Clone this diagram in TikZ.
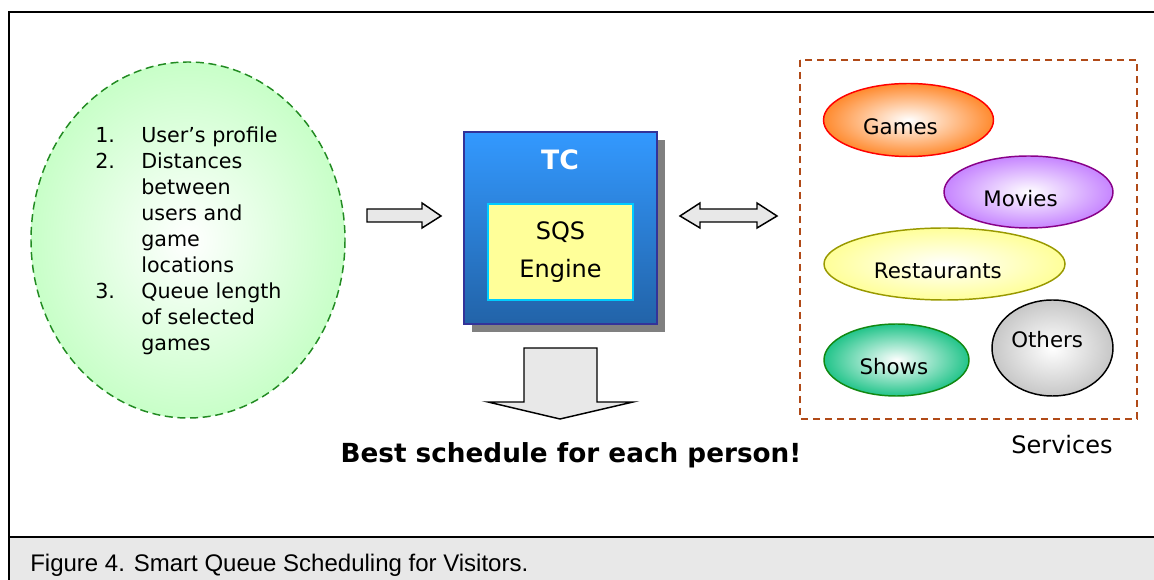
\documentclass[tikz,border=0pt]{standalone}
\usepackage{fontspec}
\setmainfont{DejaVu Sans}
\newfontfamily\capfont{Liberation Sans}
\usetikzlibrary{shapes.geometric, shadows, positioning}

\definecolor{listgreen}{HTML}{C8FFC8}
\definecolor{dashgreen}{HTML}{228B22}
\definecolor{arrowgray}{HTML}{E8E8E8}
\definecolor{tctop}{HTML}{3399FF}
\definecolor{tcbottom}{HTML}{2263A8}
\definecolor{tcline}{HTML}{333399}
\definecolor{sqsfill}{HTML}{FFFF99}
\definecolor{sqsline}{HTML}{00CCFF}
\definecolor{svcline}{HTML}{B04A18}
\definecolor{gamesfill}{HTML}{FF8A2E}
\definecolor{moviesfill}{HTML}{C685FF}
\definecolor{moviesline}{HTML}{880088}
\definecolor{showsfill}{HTML}{22C48A}
\definecolor{showsline}{HTML}{118811}
\definecolor{restline}{HTML}{999900}

\tikzset{
    blockarrow/.style={draw=black, fill=arrowgray, line width=1.1pt, line join=miter},
    svc/.style={ellipse, line width=1.1pt, inner color=white, inner sep=0pt},
    svctext/.style={font=\fontsize{16}{19}\selectfont},
}

\begin{document}
\begin{tikzpicture}[x=0.75pt, y=-0.75pt]
    \useasboundingbox (0,0) rectangle (1154,580);

    % frame and caption band
    \draw[line width=1.5pt] (9,12) rectangle (1170,600);
    \draw[fill=arrowgray, line width=1.1pt] (9,537) rectangle (1170,600);
    \node[anchor=west, inner sep=0pt] (caption) at (30,565)
        {\capfont\fontsize{18}{20}\selectfont Figure 4. Smart Queue Scheduling for Visitors.};

    % inputs
    \draw[dashgreen, dashed, dash pattern=on 6pt off 3.5pt, line width=1.1pt,
        inner color=white, outer color=listgreen] (188,240) ellipse [x radius=157, y radius=178];
    \node[anchor=base west, inner sep=0pt] (inputs) at (95,142.5)
        {\fontsize{15.5}{19.5}\selectfont
         \begin{tabular}[t]{@{}p{34.5pt}@{}l@{}}
         1. & User’s profile\\
         2. & Distances\\
            & between\\
            & users and\\
            & game\\
            & locations\\
         3. & Queue length\\
            & of selected\\
            & games
         \end{tabular}};

    % TC box
    \node[draw=tcline, line width=1.1pt, top color=tctop, bottom color=tcbottom,
        minimum width=144.75pt, minimum height=144pt, inner sep=0pt,
        general shadow={fill=black!50, shadow xshift=6pt, shadow yshift=-6pt}] (tc) at (560.5,228) {};
    \node[text=white, font=\bfseries\fontsize{20}{24}\selectfont] (tctitle) at (560,160) {TC};
    \node[draw=sqsline, fill=sqsfill, line width=1.1pt, minimum width=108.75pt, minimum height=72pt,
        align=center, inner sep=0pt, font=\fontsize{18}{29}\selectfont] (sqs) at (560.5,252) {SQS\\Engine};

    % block arrows
    \draw[blockarrow] (367,209) -- (422,209) -- (422,203) -- (441,216) -- (422,228) -- (422,222) -- (367,222) -- cycle;
    \draw[blockarrow] (680,216) -- (700,203) -- (700,209) -- (757,209) -- (757,203) -- (777,216)
        -- (757,228) -- (757,222) -- (700,222) -- (700,228) -- cycle;
    \draw[blockarrow] (524,348) -- (597,348) -- (597,402) -- (633,402) -- (560,419) -- (488,402) -- (524,402) -- cycle;

    \node[font=\bfseries\fontsize{19.7}{24}\selectfont] (best) at (571,455) {Best schedule for each person!};

    % services
    \draw[svcline, dashed, dash pattern=on 5.5pt off 3.5pt, line width=1.1pt] (800,60) rectangle (1137,419);
    \node[svc, draw=red, outer color=gamesfill, minimum width=127.5pt, minimum height=54.75pt,
        label={[svctext, xshift=-6pt, yshift=-5pt]center:Games}] (games) at (908.5,120) {};
    \node[svc, draw=moviesline, outer color=moviesfill, minimum width=126.75pt, minimum height=54pt,
        label={[svctext, xshift=-6pt, yshift=-5pt]center:Movies}] (movies) at (1028.5,192) {};
    \node[svc, draw=restline, outer color=sqsfill, minimum width=180.75pt, minimum height=54pt,
        label={[svctext, xshift=-5pt, yshift=-5pt]center:Restaurants}] (restaurants) at (944.5,264) {};
    \node[svc, draw=showsline, outer color=showsfill, minimum width=108.75pt, minimum height=54pt,
        label={[svctext, xshift=-2pt, yshift=-5pt]center:Shows}] (shows) at (896.5,360) {};
    \node[svc, draw=black, outer color=black!22, minimum width=90.75pt, minimum height=72pt,
        label={[svctext, xshift=-4pt, yshift=6pt]center:Others}] (others) at (1052.5,348) {};
    \node[font=\fontsize{18}{22}\selectfont] (services) at (1062,445) {Services};
\end{tikzpicture}
\end{document}
